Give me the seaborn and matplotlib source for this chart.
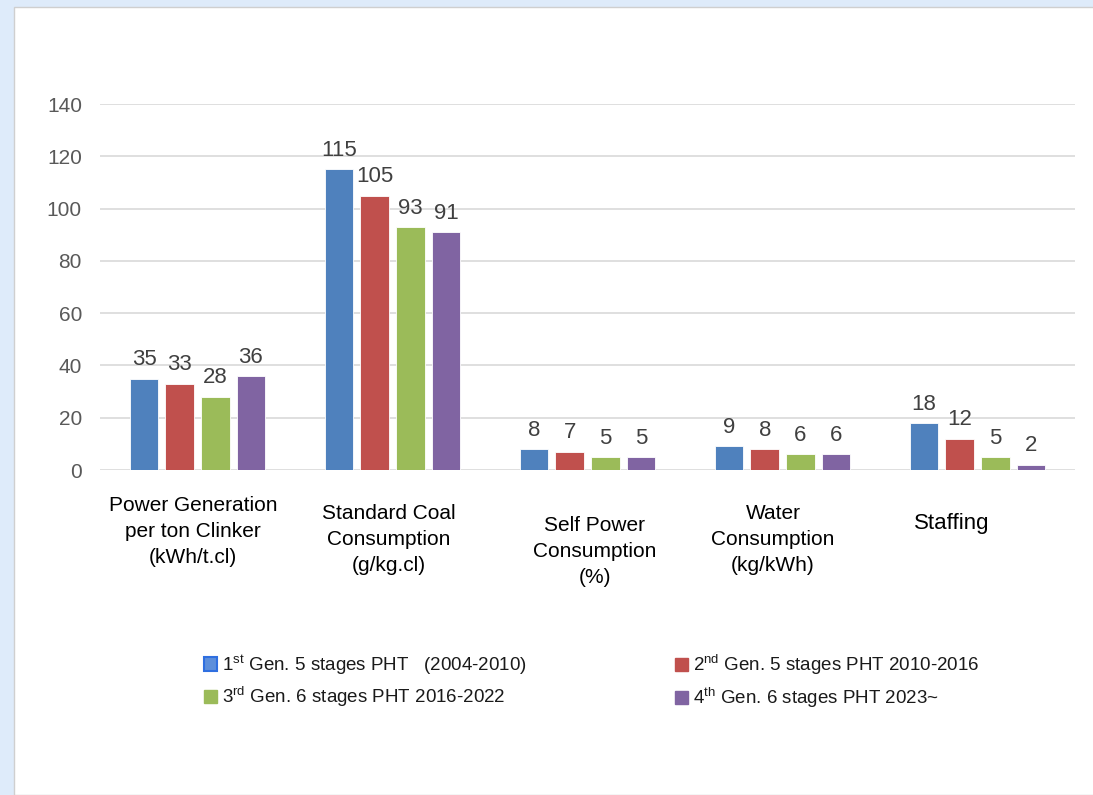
import matplotlib
matplotlib.use("Agg")
import pandas as pd
import matplotlib.pyplot as plt
import seaborn as sns
from matplotlib.patches import Rectangle, Patch

# data
categories = ["Power Generation\nper ton Clinker\n(kWh/t.cl)",
              "Standard Coal\nConsumption\n(g/kg.cl)",
              "Self Power\nConsumption\n(%)",
              "Water\nConsumption\n(kg/kWh)",
              "Staffing"]
generations = [r"1$^{\mathrm{st}}$ Gen. 5 stages PHT   (2004-2010)",
               r"2$^{\mathrm{nd}}$ Gen. 5 stages PHT 2010-2016",
               r"3$^{\mathrm{rd}}$ Gen. 6 stages PHT 2016-2022",
               r"4$^{\mathrm{th}}$ Gen. 6 stages PHT 2023~"]
gen1 = [35, 115, 8, 9, 18]
gen2 = [33, 105, 7, 8, 12]
gen3 = [28, 93, 5, 6, 5]
gen4 = [36, 91, 5, 6, 2]
yticks = [0, 20, 40, 60, 80, 100, 120, 140]

colors = ["#4F81BD", "#C0504D", "#9BBB59", "#8064A2"]

rows = []
for gen, vals in zip(generations, [gen1, gen2, gen3, gen4]):
    for cat, v in zip(categories, vals):
        rows.append({"category": cat, "generation": gen, "value": v})
df = pd.DataFrame(rows)

sns.set_style("white")
plt.rcParams["font.family"] = ["Liberation Sans", "DejaVu Sans"]
plt.rcParams["mathtext.fontset"] = "custom"
plt.rcParams["mathtext.rm"] = "Liberation Sans"
plt.rcParams["mathtext.it"] = "Liberation Sans:italic"
plt.rcParams["mathtext.bf"] = "Liberation Sans:bold"

W, H = 1093, 795
fig = plt.figure(figsize=(W / 100, H / 100), dpi=100, facecolor="#DEEBFA")


def fx(px):
    return px / W


def fy(py):
    return 1 - py / H


# white panel with thin grey border (left / top)
fig.patches.append(Rectangle((fx(13.5), 0), 1, fy(7), transform=fig.transFigure,
                             facecolor="white", edgecolor="#CFCFCF", lw=1.0,
                             zorder=-10))

ax = fig.add_axes([fx(100), fy(470), fx(975), 366 / H])
ax.set_facecolor("none")
ax.set_zorder(1)
sns.barplot(data=df, x="category", y="value", hue="generation", order=categories,
            hue_order=generations, palette=colors, width=0.73, gap=0.2,
            errorbar=None, legend=False, edgecolor="white", linewidth=0.6,
            saturation=1, ax=ax)

for c in ax.containers:
    ax.bar_label(c, padding=6, fontsize=16, color="#404040")

ax.set_xlim(-0.5, 4.5)
ax.set_ylim(0, 140)
ax.set_yticks(yticks)
ax.tick_params(axis="y", length=0, pad=13, labelsize=15, labelcolor="#595959")
ax.set_xticks([])
ax.set_xlabel("")
ax.set_ylabel("")
ax.grid(axis="y", color="#D9D9D9", lw=1.2)
ax.set_axisbelow(True)
sns.despine(ax=ax, left=True, bottom=True)

# category labels, staggered like the original
label_pos = [(193, 496, 15), (389, 504, 15), (595, 516, 15),
             (773, 504, 15), (952, 513, 16)]
for text, (x, y, size) in zip(categories, label_pos):
    fig.text(fx(x), fy(y), text, ha="center", va="top", fontsize=size,
             color="black", linespacing=1.47, multialignment="center")

# legend as two columns
handles = [Patch(facecolor="#5D8FDB", edgecolor="#2F6FE0", lw=1.5),
           Patch(facecolor=colors[1], edgecolor=colors[1]),
           Patch(facecolor=colors[2], edgecolor=colors[2]),
           Patch(facecolor=colors[3], edgecolor=colors[3])]
kw = dict(frameon=False, loc="upper left", fontsize=13.5, handlelength=0.7,
          handleheight=0.7, handletextpad=0.25, labelspacing=0.45, borderpad=0,
          borderaxespad=0)
leg1 = fig.legend([handles[0], handles[2]], [generations[0], generations[2]],
                  bbox_to_anchor=(fx(204), fy(653)), **kw)
leg2 = fig.legend([handles[1], handles[3]], [generations[1], generations[3]],
                  bbox_to_anchor=(fx(675), fy(653)), **kw)
for leg in (leg1, leg2):
    for t in leg.get_texts():
        t.set_color("#1A1A1A")

fig.savefig("out.png", dpi=100, facecolor=fig.get_facecolor())
